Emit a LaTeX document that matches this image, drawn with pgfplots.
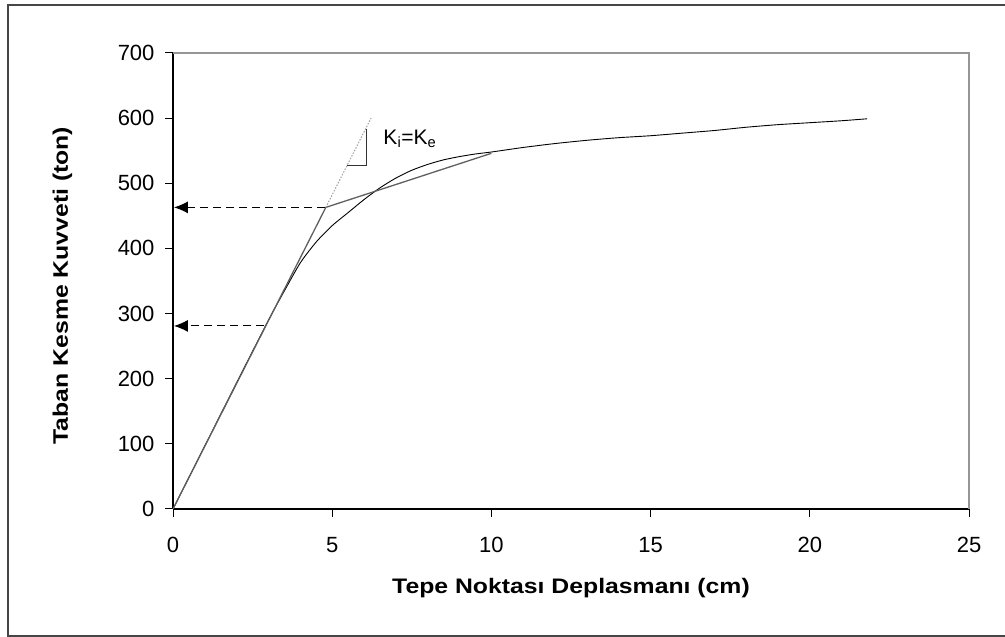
\documentclass[border=0pt]{standalone}
\usepackage{fontspec}
\setmainfont{Liberation Sans}
\usepackage{pgfplots}
\pgfplotsset{compat=1.18}
\usetikzlibrary{arrows.meta}
\definecolor{framegray}{RGB}{70,70,70}
\definecolor{boxgray}{RGB}{150,150,150}
\definecolor{bilin}{RGB}{95,95,95}
\definecolor{dotgray}{RGB}{165,165,165}
\begin{document}
\begin{tikzpicture}
\useasboundingbox (0pt,0pt) rectangle (1005pt,637pt);
\draw[line width=1.6pt, framegray] (1015pt,632pt) -- (8pt,632pt) -- (8pt,1pt) -- (1015pt,1pt);
\begin{axis}[
  at={(173pt,128pt)}, anchor=south west,
  scale only axis, width=796pt, height=456pt,
  xmin=0, xmax=25, ymin=0, ymax=700,
  xtick={0,5,...,25}, ytick={0,100,...,700},
  axis x line*=bottom, axis y line*=left,
  axis line style={black, line width=1.2pt, -},
  tick align=outside, major tick length=8pt,
  tick style={black, line width=1pt},
  ticklabel style={font=\fontsize{22}{22}\selectfont},
  xticklabel style={yshift=-17pt},
  yticklabel style={xshift=-7pt},
  /pgf/number format/assume math mode=true,
  xlabel={\scalebox{1.18}[1]{\bfseries Tepe Noktası Deplasmanı (cm)}},
  ylabel={\scalebox{1.18}[1]{\bfseries Taban Kesme Kuvveti (ton)}},
  label style={font=\fontsize{21}{21}\selectfont},
  xlabel style={at={(axis description cs:0.5,-0.173)}, anchor=center},
  ylabel style={at={(axis description cs:-0.139,0.49)}, anchor=center},
  clip=false,
]
\draw[boxgray, line width=1.2pt] (rel axis cs:0,1) -- (rel axis cs:1,1) -- (rel axis cs:1,0);
% capacity curve
\addplot[black, line width=0.9pt, smooth, tension=0.4] coordinates {
(0,0) (1,97) (2,194) (3,290) (3.5,335) (4.0,378) (4.5,410) (5.0,435)
(5.5,455) (6.0,475) (6.5,493) (7.0,508) (7.5,520) (8.0,529) (8.5,536)
(9.0,541) (9.5,545) (10,548) (11,555) (12,561) (13,566) (14,570)
(15,573) (16,577) (17,581) (18,586) (19,590) (20,593) (21,596) (21.8,599)
};
% bilinear idealisation
\addplot[bilin, line width=1.3pt] coordinates {(0,0) (4.8,463) (10,546)};
% dotted extension of initial stiffness
\addplot[dotgray, line width=1.1pt, dash pattern=on 1.5pt off 1.5pt] coordinates {(4.8,463) (6.22,600)};
% slope triangle
\addplot[black!80, line width=1pt] coordinates {(5.47,528) (6.07,528) (6.07,583)};
% arrows
\addplot[black, line width=1pt, dash pattern=on 8pt off 5pt, -{Latex[length=14pt,width=12pt]}] coordinates {(4.78,463) (0.03,463)};
\addplot[black, line width=1pt, dash pattern=on 8pt off 5pt, -{Latex[length=14pt,width=12pt]}] coordinates {(2.87,281) (0.03,281)};
\node[anchor=west, font=\fontsize{21}{21}\selectfont] at (axis cs:6.5,568) {K\textsubscript{i}=K\textsubscript{e}};
\end{axis}
\end{tikzpicture}
\end{document}
